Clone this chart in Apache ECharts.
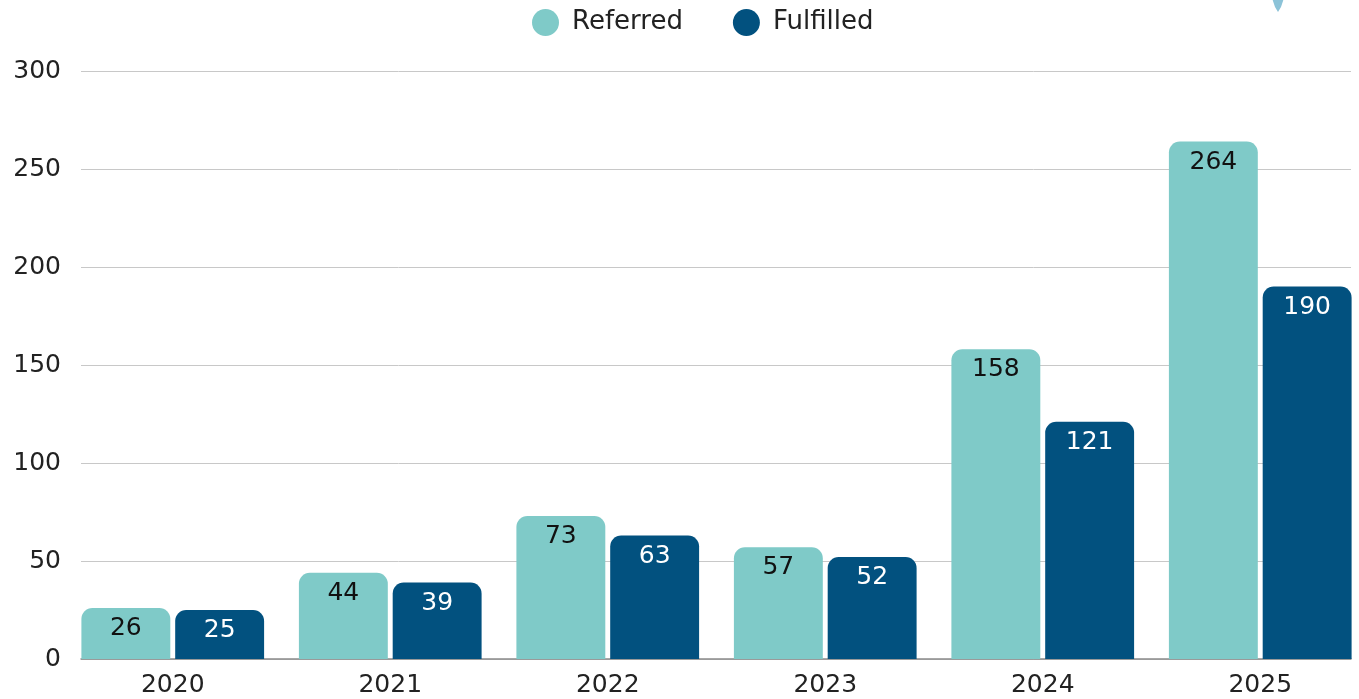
<!DOCTYPE html>
<html>
<head>
<meta charset="utf-8">
<script src="https://cdn.jsdelivr.net/npm/echarts@6/dist/echarts.min.js"></script>
<style>
  html, body { margin: 0; padding: 0; background: #fff; }
  #main { width: 1359px; height: 699px; }
</style>
</head>
<body>
<div id="main"></div>
<script>
var years = ['2020', '2021', '2022', '2023', '2024', '2025'];
var referred = [26, 44, 73, 57, 158, 264];
var fulfilled = [25, 39, 63, 52, 121, 190];
var yTicks = { min: 0, max: 300, interval: 50 };

var font = 'DejaVu Sans';
var chart = echarts.init(document.getElementById('main'));

var option = {
  backgroundColor: '#fff',
  color: ['#7fcac8', '#02517f'],
  textStyle: { fontFamily: font },
  legend: {
    top: 4,
    left: 527,
    icon: 'circle',
    itemWidth: 27,
    itemHeight: 27,
    itemGap: 50,
    textStyle: { fontSize: 26, color: '#222', fontFamily: font, padding: [0, 0, 0, 8] },
    data: ['Referred', 'Fulfilled']
  },
  // grid 0 holds the gridlines and y labels, grid 1 holds the bars
  grid: [
    { left: 81, right: 8, top: 71, bottom: 40, outerBoundsMode: 'none' },
    { left: 64, width: 1305, top: 71, bottom: 40, outerBoundsMode: 'none' }
  ],
  xAxis: [{
    gridIndex: 0,
    type: 'category',
    data: years,
    axisLine: { show: true, lineStyle: { color: '#8a8a8a', width: 1.5 } },
    axisTick: { show: false },
    axisLabel: { show: false }
  }, {
    gridIndex: 1,
    type: 'category',
    data: years,
    axisLine: { show: false },
    axisTick: { show: false },
    axisLabel: { fontSize: 25, color: '#222', margin: 14, fontFamily: font }
  }],
  yAxis: [{
    gridIndex: 0,
    type: 'value',
    min: yTicks.min,
    max: yTicks.max,
    interval: yTicks.interval,
    axisLabel: { fontSize: 25, color: '#222', margin: 20, fontFamily: font },
    splitLine: { lineStyle: { color: '#c8c8c8', width: 1 } }
  }, {
    gridIndex: 1,
    type: 'value',
    min: yTicks.min,
    max: yTicks.max,
    interval: yTicks.interval,
    show: false,
    splitLine: { show: false }
  }],
  graphic: [{
    type: 'polygon',
    shape: { points: [[1272, -2], [1284, -2], [1281, 7], [1278, 12], [1275, 7]] },
    style: { fill: '#8cc3d8' }
  }],
  series: [{
    name: 'Referred',
    type: 'bar',
    xAxisIndex: 1,
    yAxisIndex: 1,
    data: referred,
    barGap: '5.5%',
    barCategoryGap: '16%',
    itemStyle: { borderRadius: [11, 11, 0, 0] },
    label: { show: true, position: 'insideTop', distance: 8, fontSize: 25, color: '#111', fontFamily: font }
  }, {
    name: 'Fulfilled',
    type: 'bar',
    xAxisIndex: 1,
    yAxisIndex: 1,
    data: fulfilled,
    itemStyle: { borderRadius: [11, 11, 0, 0] },
    label: { show: true, position: 'insideTop', distance: 8, fontSize: 25, color: '#fff', fontFamily: font }
  }]
};

chart.setOption(option);
</script>
</body>
</html>
